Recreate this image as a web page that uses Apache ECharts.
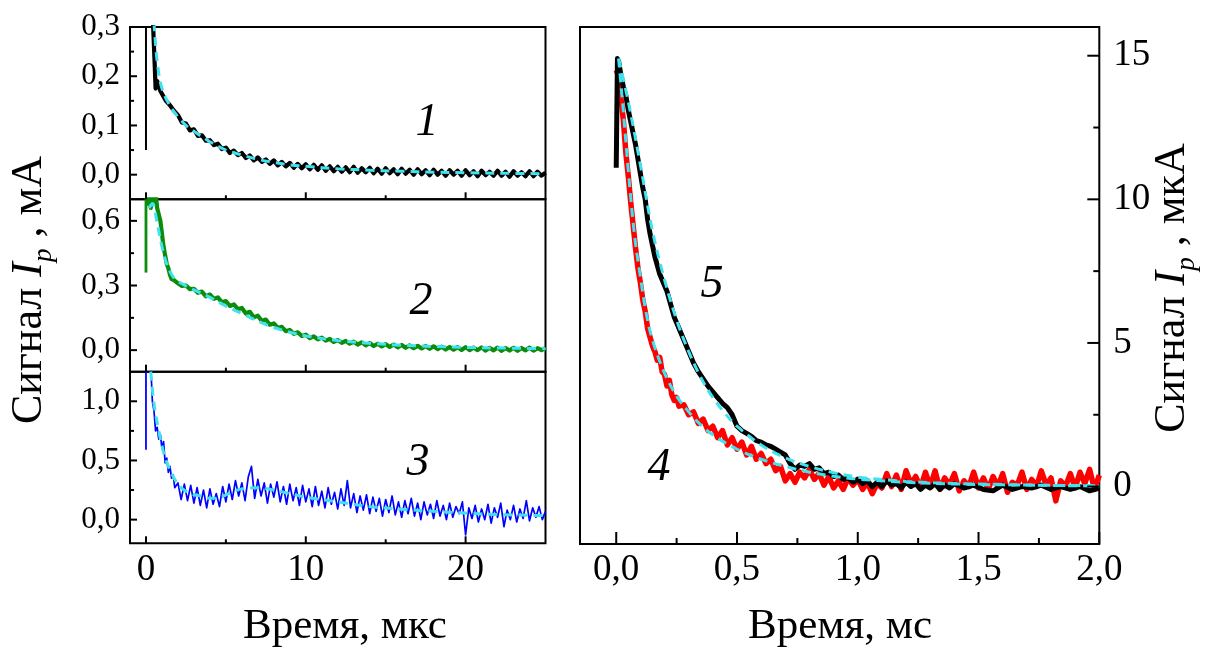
<!DOCTYPE html>
<html><head><meta charset="utf-8">
<script src="https://cdn.jsdelivr.net/npm/echarts@6/dist/echarts.min.js"></script>
<style>html,body{margin:0;padding:0;background:#fff}#c{width:1205px;height:647px}</style>
</head><body><div id="c"></div>
<script>
const FONT = '"Liberation Serif", "Times New Roman", serif';
const TICK_COLOR = '#000';

// ---------- tick values ----------
const xTicksUs = [0, 10, 20];
const xMinorUs = [5, 15];
const xTicksMs = [0, 0.5, 1.0, 1.5, 2.0];
const xMinorMs = [0.25, 0.75, 1.25, 1.75];
const yTicks1 = [0, 0.1, 0.2, 0.3];
const yMinor1 = [0.05, 0.15, 0.25];
const yTicks2 = [0, 0.3, 0.6];
const yMinor2 = [0.15, 0.45];
const yTicks3 = [0, 0.5, 1.0];
const yMinor3 = [0.25, 0.75];
const yTicksR = [0, 5, 10, 15];
const yMinorR = [2.5, 7.5, 12.5];

// ---------- series data [time, signal] ----------
const spike1 = [[0, 0.05], [0, 0.4]];
const trace1 = [[0.35,0.45],[0.45,0.3],[0.55,0.22],[0.6,0.175],[0.7,0.19],[0.8,0.182],[0.9,0.17],[1.0,0.166],[1.25,0.15],[1.5,0.141],[1.75,0.13],
[2.0,0.121],[2.25,0.106],[2.5,0.104],[2.75,0.09],[3.0,0.092],[3.25,0.079],[3.5,0.08],[3.75,0.069],[4.0,0.07],[4.25,0.06],[4.5,0.063],[4.75,0.052],
[5.0,0.055],[5.25,0.044],[5.5,0.049],[5.75,0.04],[6.0,0.044],[6.25,0.034],[6.5,0.039],[6.75,0.029],[7.0,0.035],[7.25,0.026],[7.5,0.031],[7.75,0.022],
[8.0,0.029],[8.25,0.019],[8.5,0.026],[8.75,0.017],[9.0,0.024],[9.25,0.014],[9.5,0.022],[9.75,0.013],[10.0,0.021],[10.25,0.011],[10.5,0.02],[10.75,0.01],
[11.0,0.019],[11.25,0.008],[11.5,0.017],[11.75,0.007],[12.0,0.016],[12.25,0.006],[12.5,0.015],[12.75,0.005],[13.0,0.016],[13.25,0.004],[13.5,0.013],[13.75,0.005],
[14.0,0.014],[14.25,0.003],[14.5,0.012],[14.75,0.002],[15.0,0.013],[15.25,0.003],[15.5,0.011],[15.75,0.001],[16.0,0.012],[16.25,0.002],[16.5,0.01],[16.75,0.0],
[17.0,0.011],[17.25,0.001],[17.5,0.009],[17.75,-0.001],[18.0,0.01],[18.25,0.0],[18.5,0.008],[18.75,-0.002],[19.0,0.009],[19.25,0.0],[19.5,0.008],[19.75,-0.002],
[20.0,0.009],[20.25,-0.001],[20.5,0.007],[20.75,-0.003],[21.0,0.008],[21.25,-0.001],[21.5,0.006],[21.75,-0.002],[22.0,0.008],[22.25,-0.002],[22.5,0.006],[22.75,-0.004],
[23.0,0.007],[23.25,-0.002],[23.5,0.005],[23.75,-0.003],[24.0,0.007],[24.25,-0.003],[24.5,0.006],[24.75,-0.002],[25.0,0.004]];
const fit1 = [[0.5,0.31],[0.7,0.23],[1,0.175],[1.5,0.14],[2,0.118],[2.5,0.1],[3,0.088],[4,0.067],[5,0.05],[6,0.04],[7,0.031],[8,0.025],[9,0.02],[10,0.017],[12,0.012],[14,0.009],[16,0.007],[18,0.005],[20,0.004],[22,0.003],[25,0.002]];

const spike2 = [[0, 0.36], [0, 0.75]];
const trace2 = [[0.05,0.75],[0.1,0.68],[0.2,0.71],[0.3,0.66],[0.4,0.72],[0.5,0.69],[0.6,0.73],[0.7,0.66],[0.8,0.63],[0.9,0.6],[1.0,0.54],[1.1,0.48],[1.2,0.44],[1.3,0.4],[1.4,0.38],[1.5,0.35],[1.6,0.33],[1.75,0.325],
[2.0,0.31],[2.25,0.298],[2.5,0.3],[2.75,0.283],[3.0,0.285],[3.25,0.266],[3.5,0.272],[3.75,0.25],[4.0,0.258],[4.25,0.238],[4.5,0.245],[4.75,0.222],[5.0,0.228],[5.25,0.205],[5.5,0.212],[5.75,0.19],
[6.0,0.196],[6.25,0.17],[6.5,0.178],[6.75,0.152],[7.0,0.16],[7.25,0.135],[7.5,0.142],[7.75,0.118],[8.0,0.124],[8.25,0.103],[8.5,0.108],[8.75,0.088],[9.0,0.094],[9.25,0.076],[9.5,0.083],[9.75,0.066],
[10.0,0.072],[10.25,0.056],[10.5,0.064],[10.75,0.05],[11.0,0.058],[11.25,0.044],[11.5,0.052],[11.75,0.038],[12.0,0.047],[12.25,0.034],[12.5,0.043],[12.75,0.03],[13.0,0.039],[13.25,0.026],[13.5,0.036],[13.75,0.022],
[14.0,0.033],[14.25,0.019],[14.5,0.03],[14.75,0.017],[15.0,0.028],[15.25,0.015],[15.5,0.026],[15.75,0.013],[16.0,0.024],[16.25,0.011],[16.5,0.022],[16.75,0.009],[17.0,0.02],[17.25,0.008],[17.5,0.019],[17.75,0.006],
[18.0,0.018],[18.25,0.005],[18.5,0.016],[18.75,0.003],[19.0,0.015],[19.25,0.002],[19.5,0.014],[19.75,0.001],[20.0,0.014],[20.25,0.0],[20.5,0.012],[20.75,0.0],[21.0,0.013],[21.25,-0.002],[21.5,0.011],[21.75,-0.001],
[22.0,0.012],[22.25,-0.003],[22.5,0.01],[22.75,-0.002],[23.0,0.011],[23.25,-0.003],[23.5,0.01],[23.75,-0.001],[24.0,0.012],[24.25,-0.002],[24.5,0.009],[24.75,0.0],[25.0,0.01]];
const fit2 = [[0.2,0.66],[0.4,0.68],[0.7,0.59],[1,0.48],[1.3,0.4],[1.7,0.34],[2.2,0.31],[3,0.28],[4,0.245],[5,0.205],[6,0.17],[7,0.135],[8,0.105],[9,0.083],[10,0.066],[12,0.045],[14,0.032],[16,0.023],[18,0.017],[20,0.013],[22,0.01],[25,0.007]];

const spike3 = [[0, 0.59], [0, 1.3]];
const trace3 = [[0.3,1.3],[0.4,1.0],[0.5,0.92],[0.6,0.75],[0.7,0.78],[0.8,0.68],[0.9,0.72],[1.0,0.6],[1.1,0.66],[1.2,0.48],[1.3,0.52],[1.4,0.4],[1.5,0.45],[1.6,0.35],[1.7,0.38],[1.8,0.27],
[2.0,0.31],[2.2,0.17],[2.4,0.3],[2.6,0.16],[2.8,0.29],[3.0,0.14],[3.2,0.27],[3.4,0.12],[3.6,0.25],[3.8,0.1],[4.0,0.26],[4.2,0.13],[4.4,0.22],[4.6,0.11],[4.8,0.28],
[5.0,0.15],[5.2,0.3],[5.4,0.17],[5.6,0.33],[5.8,0.2],[6.0,0.31],[6.2,0.16],[6.4,0.36],[6.6,0.45],[6.8,0.18],[7.0,0.34],[7.2,0.2],[7.4,0.31],[7.6,0.14],[7.8,0.3],
[8.0,0.19],[8.2,0.32],[8.4,0.15],[8.6,0.28],[8.8,0.13],[9.0,0.3],[9.2,0.16],[9.4,0.27],[9.6,0.12],[9.8,0.29],[10.0,0.15],[10.2,0.26],[10.4,0.11],[10.6,0.28],[10.8,0.12],
[11.0,0.24],[11.2,0.1],[11.4,0.27],[11.6,0.13],[11.8,0.23],[12.0,0.09],[12.2,0.26],[12.4,0.12],[12.6,0.33],[12.8,0.1],[13.0,0.22],[13.2,0.06],[13.4,0.2],[13.6,0.08],[13.8,0.21],
[14.0,0.05],[14.2,0.19],[14.4,0.07],[14.6,0.18],[14.8,0.03],[15.0,0.17],[15.2,0.06],[15.4,0.2],[15.6,0.04],[15.8,0.15],[16.0,0.02],[16.2,0.16],[16.4,0.05],[16.6,0.18],[16.8,0.03],
[17.0,0.14],[17.2,0.0],[17.4,0.15],[17.6,0.04],[17.8,0.13],[18.0,0.01],[18.2,0.16],[18.4,0.03],[18.6,0.12],[18.8,0.0],[19.0,0.14],[19.2,0.02],[19.4,0.11],[19.6,0.05],[19.8,0.15],
[20.0,-0.13],[20.2,0.1],[20.4,0.01],[20.6,0.12],[20.8,-0.02],[21.0,0.09],[21.2,0.0],[21.4,0.13],[21.6,-0.03],[21.8,0.1],[22.0,0.02],[22.2,0.14],[22.4,-0.06],[22.6,0.08],[22.8,0.0],
[23.0,0.12],[23.2,-0.02],[23.4,0.09],[23.6,0.01],[23.8,0.16],[24.0,-0.01],[24.2,0.1],[24.4,0.02],[24.6,0.11],[24.8,0.0],[25.0,0.07]];
const fit3 = [[0.3,1.25],[0.5,0.98],[0.8,0.75],[1.1,0.57],[1.5,0.42],[2,0.3],[2.5,0.24],[3,0.21],[3.5,0.2],[4,0.18],[4.5,0.18],[5,0.21],[5.5,0.24],[6,0.26],[7,0.27],[8,0.25],[9,0.22],[10,0.19],[11,0.17],[12,0.15],[14,0.11],[16,0.088],[18,0.07],[20,0.055],[22,0.043],[25,0.034]];

const trace4 = [[0,14.5],[0.01,14.3],[0.02,13.5],[0.03,12.7],[0.04,11.6],[0.05,10.8],[0.06,9.9],[0.07,9.1],[0.08,8.3],[0.09,7.6],[0.1,7.1],[0.11,6.5],[0.12,6.1],[0.13,5.5],[0.14,5.2],[0.15,4.9],[0.16,4.7],[0.17,4.4],[0.18,4.5],[0.19,4.0],
[0.2,3.9],[0.21,3.5],[0.22,3.7],[0.23,3.2],[0.24,3.0],[0.25,3.1],[0.26,2.8],[0.28,2.85],[0.3,2.5],[0.32,2.6],[0.34,2.2],[0.36,2.35],[0.38,1.95],[0.4,2.1],[0.42,1.7],[0.44,1.95],[0.46,1.45],[0.48,1.7],
[0.5,1.3],[0.52,1.55],[0.54,1.1],[0.56,1.4],[0.58,0.95],[0.6,1.15],[0.62,0.8],[0.64,0.95],[0.66,0.55],[0.68,0.7],[0.7,0.2],[0.72,0.45],[0.74,0.15],[0.76,0.5],[0.78,0.3],[0.8,0.6],[0.82,0.25],[0.84,0.45],
[0.86,0.05],[0.88,0.35],[0.9,-0.05],[0.92,0.2],[0.94,-0.1],[0.96,0.3],[0.98,0.05],[1.0,0.25],[1.02,-0.1],[1.04,0.15],[1.06,-0.25],[1.08,0.1],[1.1,-0.05],[1.12,0.45],[1.14,0.0],[1.16,0.4],[1.18,-0.1],
[1.2,0.55],[1.22,0.1],[1.24,0.35],[1.26,-0.05],[1.28,0.5],[1.3,0.0],[1.32,0.55],[1.34,-0.1],[1.36,0.3],[1.38,0.05],[1.4,0.45],[1.42,-0.15],[1.44,0.2],[1.46,0.0],[1.48,0.5],[1.5,-0.05],[1.52,0.3],
[1.54,-0.1],[1.56,0.35],[1.58,0.0],[1.6,0.45],[1.62,-0.2],[1.64,0.15],[1.66,0.05],[1.68,0.5],[1.7,-0.1],[1.72,0.25],[1.74,0.0],[1.76,0.55],[1.78,0.05],[1.8,0.3],[1.82,-0.5],[1.84,0.2],[1.86,0.0],
[1.88,0.45],[1.9,-0.05],[1.92,0.5],[1.94,0.1],[1.96,0.6],[1.98,-0.1],[2.0,0.4]];
const trace5 = [[0,11.1],[0.005,14.9],[0.01,14.8],[0.02,14.3],[0.03,13.9],[0.04,13.6],[0.05,13.1],[0.06,12.7],[0.07,12.3],[0.08,11.9],[0.09,11.4],[0.1,10.9],[0.11,10.4],[0.12,10.0],[0.13,9.3],[0.14,8.8],
[0.15,8.4],[0.16,8.0],[0.17,7.7],[0.18,7.4],[0.19,7.2],[0.2,7.0],[0.21,6.8],[0.22,6.5],[0.24,5.9],[0.26,5.5],[0.28,5.1],[0.3,4.7],[0.32,4.3],[0.34,4.0],[0.36,3.75],[0.38,3.5],[0.4,3.3],[0.42,3.1],
[0.44,2.9],[0.46,2.75],[0.48,2.5],[0.5,2.1],[0.52,1.95],[0.54,1.85],[0.56,1.75],[0.58,1.6],[0.6,1.55],[0.62,1.45],[0.64,1.4],[0.66,1.3],[0.68,1.2],[0.7,1.1],[0.72,0.8],[0.74,0.6],[0.76,0.75],
[0.78,0.7],[0.8,0.8],[0.82,0.6],[0.84,0.65],[0.86,0.45],[0.88,0.5],[0.9,0.35],[0.92,0.4],[0.94,0.25],[0.96,0.3],[0.98,0.15],[1.0,0.25],[1.02,0.1],[1.04,0.2],[1.06,0.0],[1.08,0.15],[1.1,0.0],
[1.12,0.2],[1.14,0.05],[1.16,0.1],[1.18,-0.05],[1.2,0.15],[1.22,0.0],[1.24,0.1],[1.26,-0.1],[1.28,0.05],[1.3,-0.05],[1.32,0.1],[1.34,-0.1],[1.36,0.05],[1.38,-0.05],[1.4,0.1],[1.44,-0.05],
[1.48,0.05],[1.52,-0.1],[1.56,-0.15],[1.6,0.05],[1.64,-0.1],[1.68,0.0],[1.72,-0.05],[1.76,0.05],[1.8,-0.1],[1.84,0.0],[1.88,-0.1],[1.92,0.0],[1.96,-0.15],[2.0,-0.05]];
const fit4 = [[0.01,14.9],[0.03,13.0],[0.05,11.0],[0.075,8.8],[0.1,7.3],[0.125,6.0],[0.15,5.1],[0.2,3.95],[0.25,3.15],[0.3,2.6],[0.35,2.15],[0.4,1.8],[0.5,1.3],[0.6,0.95],[0.7,0.7],[0.8,0.5],[0.9,0.36],[1.0,0.26],[1.2,0.15],[1.4,0.09],[1.7,0.05],[2.0,0.03]];
const fit5 = [[0.01,14.9],[0.05,13.4],[0.1,11.2],[0.15,8.9],[0.2,7.2],[0.25,5.8],[0.3,4.7],[0.35,3.8],[0.4,3.1],[0.45,2.55],[0.5,2.1],[0.6,1.45],[0.7,1.0],[0.8,0.7],[0.9,0.48],[1.0,0.33],[1.2,0.18],[1.4,0.11],[1.6,0.07],[1.8,0.04],[2.0,0.02]];

// ---------- axis ranges ----------
const xRangeUs = [-1, 25];
const xRangeMs = [-0.15, 2.0];
const yRange1 = [-0.05, 0.3];
const yRange2 = [-0.1, 0.7];
const yRange3 = [-0.2, 1.25];
const yRangeR = [-2, 16];

const panels = [
  {left:130, top:27, width:415.5, height:172.3},
  {left:130, top:199.3, width:415.5, height:172.4},
  {left:130, top:371.7, width:415.5, height:171.6},
  {left:580, top:27, width:519.3, height:517}
];
const grids = panels.map(p => Object.assign({show:true, borderColor:'#000', borderWidth:2}, p));

const comma = v => v.toFixed(1).replace('.', ',');
const fmtInt = v => String(Math.round(v));

function xAxisDef(g, r, ticks, showLabel, fmt) {
  return {gridIndex:g, type:'value', min:r[0], max:r[1], position:'bottom',
    axisLine:{show:false, onZero:false}, splitLine:{show:false}, axisTick:{show:false},
    axisLabel:showLabel ? {show:true, customValues:ticks, formatter:fmt, color:'#000', fontFamily:FONT, fontSize:37, margin:8} : {show:false}};
}
function yAxisDef(g, r, ticks, pos, fmt, fs, margin) {
  return {gridIndex:g, type:'value', min:r[0], max:r[1], position:pos,
    axisLine:{show:false, onZero:false}, splitLine:{show:false}, axisTick:{show:false},
    axisLabel:{show:true, customValues:ticks, formatter:fmt, color:'#000', fontFamily:FONT, fontSize:fs, margin:margin}};
}
const xAxes = [
  xAxisDef(0, xRangeUs, xTicksUs, false, fmtInt),
  xAxisDef(1, xRangeUs, xTicksUs, false, fmtInt),
  xAxisDef(2, xRangeUs, xTicksUs, true, fmtInt),
  xAxisDef(3, xRangeMs, xTicksMs, true, comma)
];
const yAxes = [
  yAxisDef(0, yRange1, yTicks1, 'left', comma, 31, 10),
  yAxisDef(1, yRange2, yTicks2, 'left', comma, 31, 10),
  yAxisDef(2, yRange3, yTicks3, 'left', comma, 31, 10),
  yAxisDef(3, yRangeR, yTicksR, 'right', fmtInt, 37, 14)
];

// tick marks placed through each grid's own coordinate system
function ticks(idx, values, dir, len, xr, yr) {
  return {type:'custom', xAxisIndex:idx, yAxisIndex:idx, silent:true, animation:false, z:6, clip:false,
    data: values.map(v => [v, v]),
    renderItem: (params, api) => {
      const v = api.value(0);
      let p, shape;
      if (dir === 'x') { p = api.coord([v, yr[0]]); shape = {x1:p[0], y1:p[1], x2:p[0], y2:p[1] - len}; }
      else if (dir === 'yl') { p = api.coord([xr[0], v]); shape = {x1:p[0], y1:p[1], x2:p[0] + len, y2:p[1]}; }
      else { p = api.coord([xr[1], v]); shape = {x1:p[0], y1:p[1], x2:p[0] - len, y2:p[1]}; }
      return {type:'line', shape, style:{stroke:TICK_COLOR, lineWidth:2}};
    }};
}

const CYAN = '#3fe2ee';
function line(idx, data, color, width, extra) {
  return Object.assign({type:'line', xAxisIndex:idx, yAxisIndex:idx, data, showSymbol:false, symbol:'none',
    lineStyle:{color, width, join:'round'}, clip:true, silent:true, animation:false}, extra || {});
}
function dashed(idx, data) {
  return line(idx, data, CYAN, 3, {smooth:0.35, lineStyle:{color:CYAN, width:3, type:[9,6]}, z:5});
}

const series = [
  line(0, spike1, '#000', 2),
  line(0, trace1, '#000', 4.2),
  dashed(0, fit1),
  line(1, spike2, '#0b8c0b', 2.8),
  line(1, trace2, '#0b8c0b', 4.2),
  dashed(1, fit2),
  line(2, spike3, '#0000ff', 1.8),
  line(2, trace3, '#0000ff', 1.7),
  dashed(2, fit3),
  line(3, trace4, '#ff0000', 5.5),
  line(3, trace5, '#000', 5),
  dashed(3, fit4),
  dashed(3, fit5),
  ticks(0, xTicksUs, 'x', 7, xRangeUs, yRange1), ticks(0, xMinorUs, 'x', 4, xRangeUs, yRange1),
  ticks(1, xTicksUs, 'x', 7, xRangeUs, yRange2), ticks(1, xMinorUs, 'x', 4, xRangeUs, yRange2),
  ticks(2, xTicksUs, 'x', 7, xRangeUs, yRange3), ticks(2, xMinorUs, 'x', 4, xRangeUs, yRange3),
  ticks(0, yTicks1, 'yl', 7, xRangeUs, yRange1), ticks(0, yMinor1, 'yl', 4, xRangeUs, yRange1),
  ticks(1, yTicks2, 'yl', 7, xRangeUs, yRange2), ticks(1, yMinor2, 'yl', 4, xRangeUs, yRange2),
  ticks(2, yTicks3, 'yl', 7, xRangeUs, yRange3), ticks(2, yMinor3, 'yl', 4, xRangeUs, yRange3),
  ticks(3, xTicksMs, 'x', 12, xRangeMs, yRangeR), ticks(3, xMinorMs, 'x', 6, xRangeMs, yRangeR),
  ticks(3, yTicksR, 'yr', 12, xRangeMs, yRangeR), ticks(3, yMinorR, 'yr', 6, xRangeMs, yRangeR)
];

const richTitle = {
  a: {fontFamily:FONT, fontSize:44, lineHeight:56, color:'#000'},
  i: {fontFamily:FONT, fontSize:44, fontStyle:'italic', lineHeight:56, color:'#000'},
  s: {fontFamily:FONT, fontSize:27, fontStyle:'italic', lineHeight:25, verticalAlign:'bottom', color:'#000'}
};
function txt(x, y, s, size, italic) {
  return {type:'text', x, y, silent:true, z:10,
    style:{text:s, fill:'#000', fontFamily:FONT, fontSize:size, fontStyle:italic ? 'italic' : 'normal',
      align:'center', verticalAlign:'middle'}};
}
function vtitle(x, y, unit) {
  return {type:'text', x, y, rotation:Math.PI/2, silent:true, z:10,
    style:{text:'{a|Сигнал }{i|I}{s|p}{a| , ' + unit + '}', rich:richTitle, fill:'#000',
      align:'center', verticalAlign:'middle'}};
}
const graphics = [
  txt(345, 627, 'Время, мкс', 43, false),
  txt(840, 627, 'Время, мс', 43, false),
  vtitle(29, 290, 'мА'),
  vtitle(1172, 288, 'мкА'),
  txt(427, 123, '1', 46, true),
  txt(421, 302, '2', 46, true),
  txt(418, 463, '3', 46, true),
  txt(659, 468, '4', 46, true),
  txt(712, 285, '5', 46, true)
];

const chart = echarts.init(document.getElementById('c'));
chart.setOption({
  animation:false,
  backgroundColor:'#fff',
  grid:grids,
  xAxis:xAxes,
  yAxis:yAxes,
  series:series,
  graphic:graphics
});
</script></body></html>
